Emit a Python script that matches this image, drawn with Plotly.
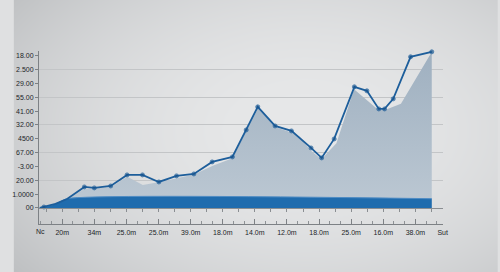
import base64
import struct
import zlib

import numpy as np
import plotly.graph_objects as go

# ---------------- data ----------------
x_tick_vals = [1, 2, 3, 4, 5, 6, 7, 8, 9, 10, 11, 12, 12.85]
x_tick_text = ["20m", "34m", "25.0m", "25.0m", "39.0m", "18.0m", "14.0m",
               "12.0m", "18.0m", "25.0m", "16.0m", "38.0m", "Sut"]
y_tick_vals = list(range(12))
y_tick_text = ["00", "1.0000", "20.00", "-3.00", "67.00", "4500", "32.00",
               "41.00", "55.00", "29.00", "2.500", "18.00"]

line_x = [0.30, 0.43, 0.79, 1.15, 1.69, 2.00, 2.51, 3.02, 3.50, 4.01, 4.56, 5.10,
          5.67, 6.30, 6.73, 7.09, 7.63, 8.14, 8.75, 9.08, 9.47, 10.10, 10.49,
          10.86, 11.04, 11.31, 11.85, 12.51]
line_y = [0.00, 0.07, 0.29, 0.65, 1.52, 1.45, 1.59, 2.39, 2.39, 1.88, 2.32, 2.46,
          3.33, 3.69, 5.64, 7.31, 5.93, 5.57, 4.34, 3.62, 4.99, 8.76, 8.47,
          7.16, 7.16, 7.89, 10.93, 11.29]
line_marked = [0, 1, 0, 0, 1, 1, 1, 1, 1, 1, 1, 1,
               1, 1, 1, 1, 1, 1, 1, 1, 1, 1, 1,
               1, 1, 1, 1, 1]

area_x = [0.30, 0.79, 1.15, 1.68, 2.00, 2.51, 3.03, 3.51, 4.04, 4.57, 5.10, 5.69,
          6.30, 6.73, 7.10, 7.63, 8.14, 8.39, 8.74, 9.07, 9.54, 10.09, 10.85,
          11.05, 11.55, 12.51]
area_y = [0.00, 0.29, 0.65, 1.35, 1.41, 1.52, 2.26, 1.66, 1.88, 2.15, 2.42, 3.06,
          3.60, 5.57, 7.21, 5.86, 5.46, 5.16, 4.15, 3.52, 4.68, 8.59, 7.09,
          7.09, 7.53, 11.27]

band_x = [0.30, 0.79, 1.15, 12.51]
band_y = [0.00, 0.29, 0.67, 0.67]

nc_label = "Nc"

# ---------------- layout constants ----------------
W, H = 500, 272
ML, MR, MT, MB = 26, 56.5, 51, 48
PW, PH = W - ML - MR, H - MT - MB
X_RANGE = [0.277, 12.86]
Y_RANGE = [-1.16, 11.35]


# ---------------- vignette background (decoration only) ----------------
def png_data_uri(rgb):
    h, w, _ = rgb.shape
    raw = b"".join(b"\x00" + rgb[r].tobytes() for r in range(h))

    def chunk(tag, data):
        c = struct.pack(">I", len(data)) + tag + data
        return c + struct.pack(">I", zlib.crc32(tag + data) & 0xffffffff)

    png = (b"\x89PNG\r\n\x1a\n"
           + chunk(b"IHDR", struct.pack(">IIBBBBB", w, h, 8, 2, 0, 0, 0))
           + chunk(b"IDAT", zlib.compress(raw, 9))
           + chunk(b"IEND", b""))
    return "data:image/png;base64," + base64.b64encode(png).decode()


yy, xx = np.mgrid[0:H, 0:W].astype(float)
d = np.sqrt(((xx - 300) / 330) ** 2 + ((yy - 130) / 200) ** 2)
shade = np.clip(d, 0, 1.6) ** 2
center = np.array([231.0, 232.0, 233.0])
edge = np.array([188.0, 190.0, 192.0])
t = np.clip(shade / 1.4, 0, 1)[..., None]
img = (center * (1 - t) + edge * t).astype(np.uint8)
bg_uri = png_data_uri(img)

# ---------------- figure ----------------
fig = go.Figure()

fig.add_trace(go.Scatter(
    x=area_x, y=area_y, mode="lines", fill="tozeroy",
    line=dict(color="rgba(0,0,0,0)", width=0),
    fillgradient=dict(type="vertical",
                      colorscale=[[0, "#bcc8d3"], [1, "#9fb0c0"]]),
    hoverinfo="skip", showlegend=False))

fig.add_trace(go.Scatter(
    x=band_x, y=band_y, mode="lines", fill="tozeroy",
    line=dict(color="#4f8cc4", width=1, shape="spline", smoothing=0.6),
    fillcolor="#1f6cae", hoverinfo="skip", showlegend=False))

fig.add_trace(go.Scatter(
    x=line_x, y=line_y, mode="lines+markers",
    line=dict(color="#1d5e9b", width=1.8),
    marker=dict(color="#17528b", size=[4 if m else 0 for m in line_marked]),
    cliponaxis=False, showlegend=False))

fig.add_trace(go.Scatter(x=[None], y=[None], xaxis="x2", showlegend=False))

axis_font = dict(family="Liberation Sans", size=7, color="#222528")

fig.update_layout(
    width=W, height=H,
    margin=dict(l=ML, r=MR, t=MT, b=MB),
    paper_bgcolor="#dfe0e1",
    plot_bgcolor="rgba(0,0,0,0)",
    showlegend=False,
    images=[dict(source=bg_uri, xref="paper", yref="paper",
                 x=-ML / PW, y=1 + MT / PH, sizex=W / PW, sizey=H / PH,
                 xanchor="left", yanchor="top", sizing="stretch",
                 layer="below")],
    xaxis=dict(range=X_RANGE, tickmode="array", tickvals=x_tick_vals,
               ticktext=x_tick_text, showgrid=False, zeroline=False,
               showline=True, linecolor="#7d8185", linewidth=1,
               ticks="inside", ticklen=5, tickcolor="#7d8185",
               tickfont=axis_font, ticklabelstandoff=2,
               minor=dict(tickmode="array",
                          tickvals=[i / 3 for i in range(1, 39)],
                          ticks="inside", ticklen=3, tickcolor="#8d9195",
                          showgrid=False)),
    xaxis2=dict(range=X_RANGE, overlaying="x", anchor="free",
                position=(0 - Y_RANGE[0]) / (Y_RANGE[1] - Y_RANGE[0]),
                showline=True, linecolor="#8a8e92", linewidth=1,
                tickmode="linear", tick0=0, dtick=0.5,
                ticks="outside", ticklen=3, tickcolor="#8a8e92",
                showticklabels=False, showgrid=False, zeroline=False),
    yaxis=dict(range=Y_RANGE, tickmode="array", tickvals=y_tick_vals,
               ticktext=y_tick_text, showgrid=False, zeroline=False,
               showline=True, linecolor="#7d8185", linewidth=1,
               ticks="outside", ticklen=3, tickcolor="#7d8185",
               tickfont=axis_font,
               minor=dict(tickmode="array", tickvals=[2, 4, 6, 8, 10],
                          ticks="", showgrid=True, gridcolor="#c3c5c7",
                          gridwidth=1)),
    annotations=[dict(x=(0.12 - X_RANGE[0]) / (X_RANGE[1] - X_RANGE[0]),
                      xref="paper", y=-0.012, yref="paper",
                      text=nc_label, showarrow=False, yanchor="top",
                      font=axis_font)],
)

fig.write_html("out.html")
